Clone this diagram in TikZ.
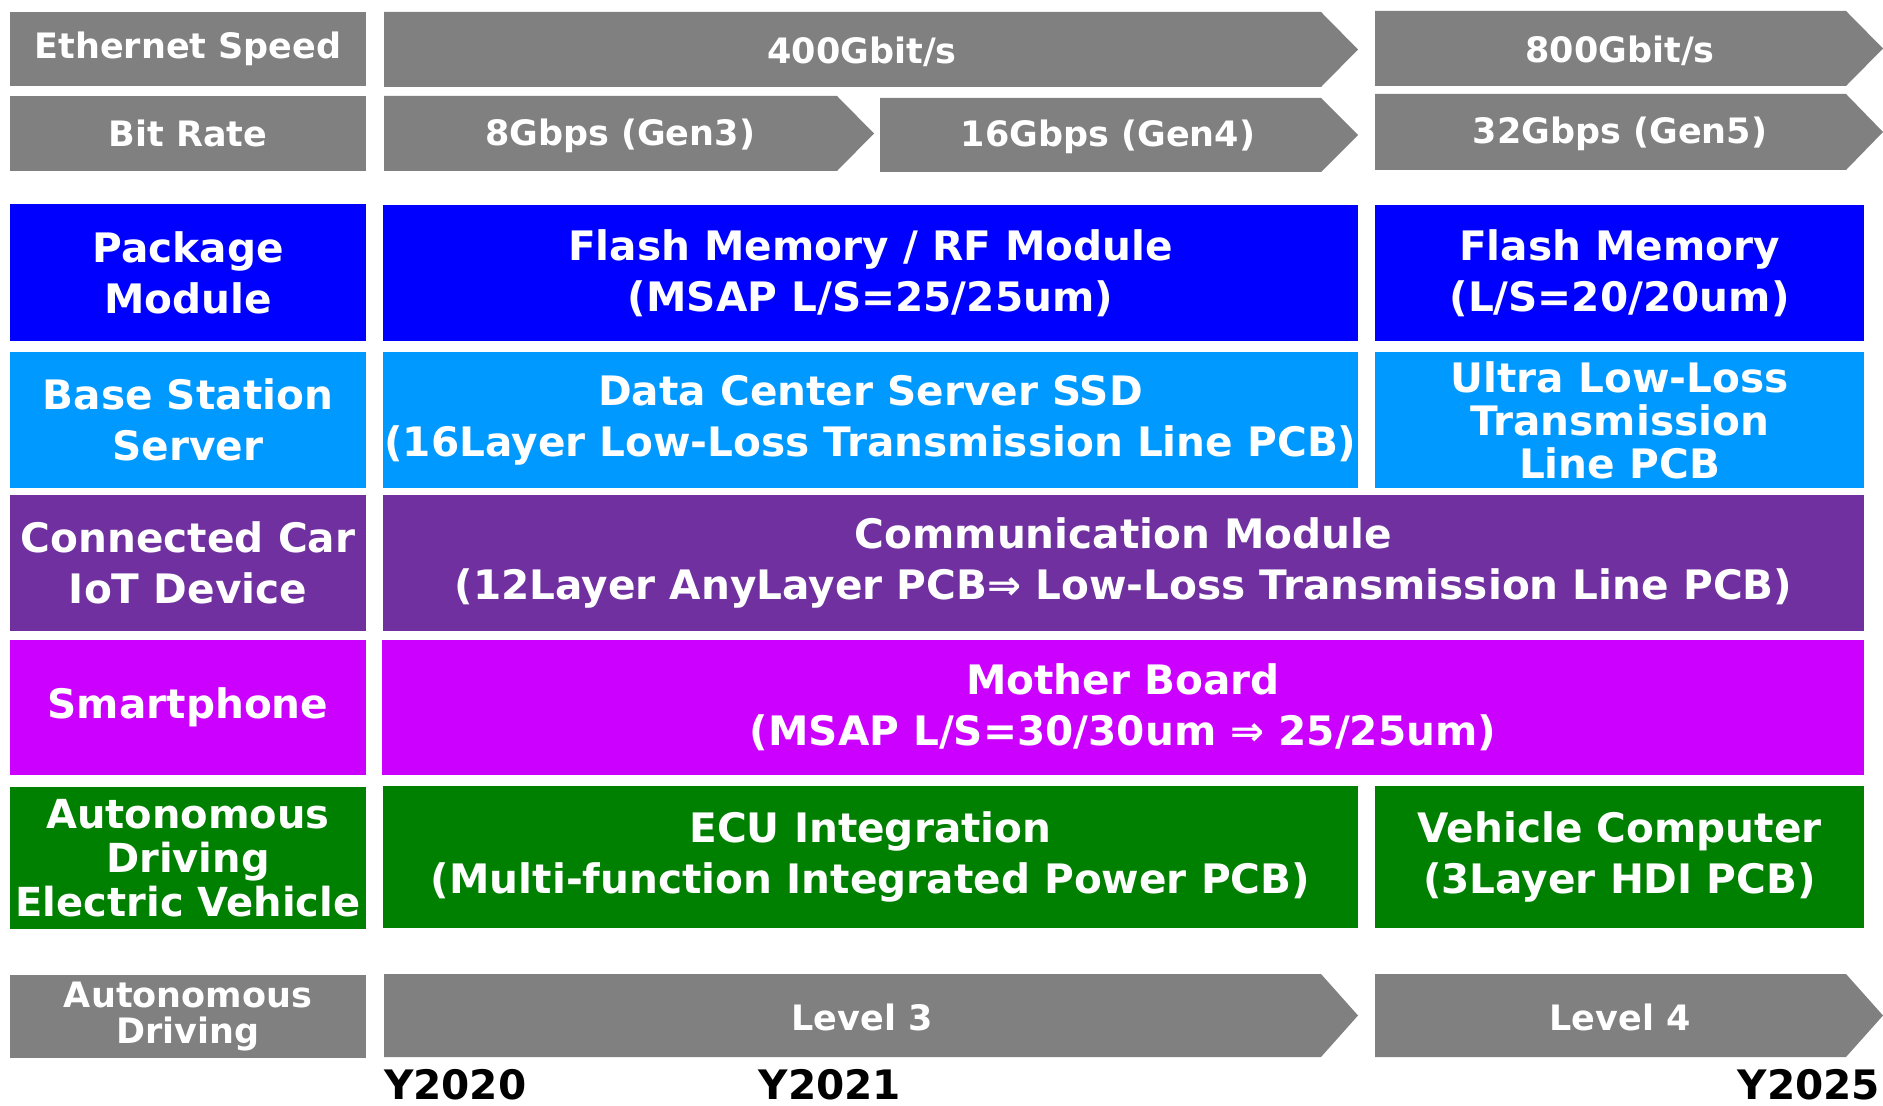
\documentclass[tikz,border=0pt]{standalone}
\usepackage{fontspec}
\setmainfont{DejaVu Sans}
\definecolor{cgray}{HTML}{808080}
\definecolor{cblue}{HTML}{0000FF}
\definecolor{clight}{HTML}{0099FF}
\definecolor{cpurple}{HTML}{7030A0}
\definecolor{cmag}{HTML}{CC00FF}
\definecolor{cgreen}{HTML}{008000}
\tikzset{
  bigtxt/.style={inner sep=0pt, outer sep=0pt, text=white, align=center,
    font=\bfseries\fontsize{20.3pt}{25.5pt}\selectfont},
  smalltxt/.style={inner sep=0pt, outer sep=0pt, text=white, align=center,
    font=\bfseries\fontsize{17.5pt}{18pt}\selectfont},
  yeartxt/.style={inner sep=0pt, outer sep=0pt, text=black,
    font=\bfseries\fontsize{20.3pt}{24pt}\selectfont},
}
% cell: name, colour, x1, y1, x2, y2, style, text
\newcommand\cellbox[8]{%
  \fill[#2] (#3,#4) rectangle (#5,#6);
  \node[#7] (#1) at ({(#3+#5)/2},{(#4+#6)/2}) {#8};}
% chevron: name, x1, y1, xbody, xtip, y2, textx, text
\newcommand\chevbox[8]{%
  \fill[cgray] (#2,#3) -- (#4,#3) -- (#5,{(#3+#6)/2}) -- (#4,#6) -- (#2,#6) -- cycle;
  \node[smalltxt] (#1) at (#7,{(#3+#6)/2+2}) {#8};}
\begin{document}
\begin{tikzpicture}[x=0.5pt,y=-0.5pt]
\useasboundingbox (0,0) rectangle (1883,1106);
% left labels
\cellbox{lEth}{cgray}{10}{12}{366}{86}{smalltxt}{Ethernet Speed}
\cellbox{lBit}{cgray}{10}{96}{366}{171}{smalltxt}{Bit Rate}
\cellbox{lPkg}{cblue}{10}{204}{366}{341}{bigtxt}{Package\\Module}
\cellbox{lBase}{clight}{10}{352}{366}{488}{bigtxt}{Base Station\\Server}
\cellbox{lCar}{cpurple}{10}{495}{366}{631}{bigtxt}{Connected Car\\IoT Device}
\cellbox{lPhone}{cmag}{10}{640}{366}{775}{bigtxt}{Smartphone}
\cellbox{lEV}{cgreen}{10}{787}{366}{929}{bigtxt,font=\bfseries\fontsize{20pt}{22pt}\selectfont}{Autonomous\\Driving\\Electric Vehicle}
\cellbox{lAD}{cgray}{10}{975}{366}{1058}{smalltxt}{Autonomous\\Driving}
% chevrons
\chevbox{eth400}{384}{12}{1321}{1358}{87}{862}{400Gbit/s}
\chevbox{eth800}{1375}{11}{1846}{1883}{86}{1620}{800Gbit/s}
\chevbox{g3}{384}{96}{837}{874}{171}{620}{8Gbps (Gen3)}
\chevbox{g4}{880}{98}{1321}{1358}{172}{1108}{16Gbps (Gen4)}
\chevbox{g5}{1375}{94}{1846}{1883}{170}{1620}{32Gbps (Gen5)}
\chevbox{lv3}{384}{974}{1321}{1358}{1057}{862}{Level 3}
\chevbox{lv4}{1375}{974}{1846}{1883}{1057}{1620}{Level 4}
% content cells
\cellbox{cPkgA}{cblue}{383}{205}{1358}{341}{bigtxt}{Flash Memory / RF Module\\(MSAP L/S=25/25um)}
\cellbox{cPkgB}{cblue}{1375}{205}{1864}{341}{bigtxt}{Flash Memory\\(L/S=20/20um)}
\cellbox{cBaseA}{clight}{383}{352}{1358}{488}{bigtxt}{Data Center Server SSD\\(16Layer Low-Loss Transmission Line PCB)}
\cellbox{cBaseB}{clight}{1375}{352}{1864}{488}{bigtxt,font=\bfseries\fontsize{20.3pt}{21.5pt}\selectfont}{Ultra Low-Loss\\Transmission\\Line PCB}
\cellbox{cCar}{cpurple}{383}{495}{1864}{631}{bigtxt}{Communication Module\\(12Layer AnyLayer PCB⇒ Low-Loss Transmission Line PCB)}
\cellbox{cPhone}{cmag}{382}{640}{1864}{775}{bigtxt}{Mother Board\\(MSAP L/S=30/30um ⇒ 25/25um)}
\cellbox{cEVA}{cgreen}{383}{786}{1358}{928}{bigtxt}{ECU Integration\\(Multi-function Integrated Power PCB)}
\cellbox{cEVB}{cgreen}{1375}{786}{1864}{928}{bigtxt}{Vehicle Computer\\(3Layer HDI PCB)}
% years
\node[yeartxt, anchor=base west] (y20) at (384,1099) {Y2020};
\node[yeartxt, anchor=base] (y21) at (830,1099) {Y2021};
\node[yeartxt, anchor=base east] (y25) at (1880,1099) {Y2025};
\end{tikzpicture}
\end{document}
